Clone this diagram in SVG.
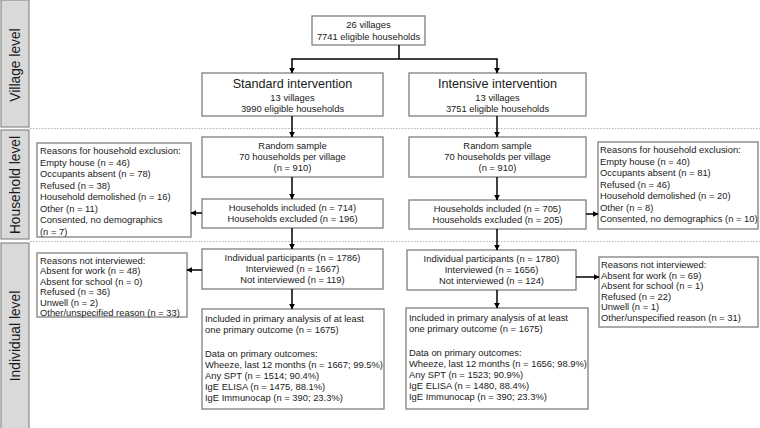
<svg xmlns="http://www.w3.org/2000/svg" width="760" height="428" viewBox="0 0 760 428">
<defs>
<marker id="ah" viewBox="0 0 10 10" refX="9" refY="5" markerWidth="6" markerHeight="6" markerUnits="userSpaceOnUse" orient="auto">
<path d="M0,0 L10,5 L0,10 z" fill="#000"/>
</marker>
<style>
.bar{fill:#d9d9d9;stroke:#8a8a8a;stroke-width:1.2}
.lvl{font-family:"Liberation Sans",Arial,sans-serif;font-size:13.8px;fill:#1a1a1a;text-anchor:middle}
.box{fill:#fff;stroke:#7f7f7f;stroke-width:1.3}
.t{font-family:"Liberation Sans",Arial,sans-serif;font-size:9.4px;fill:#1a1a1a}
.c{text-anchor:middle}
.title{font-size:12.6px}
.sep{stroke:#a0a0a0;stroke-width:0.8;stroke-dasharray:1.5,1.5;fill:none}
.con{stroke:#000;stroke-width:1.5;fill:none}
.arr{stroke:#000;stroke-width:1.5;fill:none;marker-end:url(#ah)}
</style>
</defs>
<rect width="760" height="428" fill="#fff"/>
<g id="levels">
<rect class="bar" x="1" y="0" width="28" height="127"/>
<rect class="bar" x="1" y="130" width="28" height="109"/>
<rect class="bar" x="1" y="243" width="28" height="186"/>
<text class="lvl" transform="translate(20,65) rotate(-90)">Village level</text>
<text class="lvl" transform="translate(20,185) rotate(-90)">Household level</text>
<text class="lvl" transform="translate(20,336) rotate(-90)">Individual level</text>
<line class="sep" x1="30" y1="128.5" x2="760" y2="128.5"/>
<line class="sep" x1="30" y1="241.5" x2="760" y2="241.5"/>
</g>
<g id="top">
<rect class="box" x="312" y="16" width="113" height="29"/>
<text class="t c" x="368.5" y="28">26 villages</text>
<text class="t c" x="368.5" y="40">7741 eligible households</text>
</g>
<g id="standard">
<rect class="box" x="202" y="73" width="181" height="43"/>
<text class="t c title" x="292.5" y="88">Standard intervention</text>
<text class="t c" x="292.5" y="101">13 villages</text>
<text class="t c" x="292.5" y="112">3990 eligible households</text>
</g>
<g id="intensive">
<rect class="box" x="409" y="73" width="177" height="43"/>
<text class="t c title" x="497.5" y="88">Intensive intervention</text>
<text class="t c" x="497.5" y="101">13 villages</text>
<text class="t c" x="497.5" y="112">3751 eligible households</text>
</g>
<g id="sample-std">
<rect class="box" x="202" y="137" width="181" height="40"/>
<text class="t c" x="292.5" y="149">Random sample</text>
<text class="t c" x="292.5" y="160">70 households per village</text>
<text class="t c" x="292.5" y="171">(n = 910)</text>
</g>
<g id="sample-int">
<rect class="box" x="409" y="137" width="177" height="40"/>
<text class="t c" x="497.5" y="149">Random sample</text>
<text class="t c" x="497.5" y="160">70 households per village</text>
<text class="t c" x="497.5" y="171">(n = 910)</text>
</g>
<g id="hh-std">
<rect class="box" x="202" y="199" width="181" height="29"/>
<text class="t c" x="292.5" y="211">Households included (n = 714)</text>
<text class="t c" x="292.5" y="222">Households excluded (n = 196)</text>
</g>
<g id="hh-int">
<rect class="box" x="409" y="200" width="177" height="29"/>
<text class="t c" x="497.5" y="212">Households included (n = 705)</text>
<text class="t c" x="497.5" y="223">Households excluded (n = 205)</text>
</g>
<g id="excl-std">
<rect class="box" x="37" y="143" width="154" height="94"/>
<text class="t" x="40" y="154">Reasons for household exclusion:</text>
<text class="t" x="40" y="165.5">Empty house (n = 46)</text>
<text class="t" x="40" y="177">Occupants absent (n = 78)</text>
<text class="t" x="40" y="188.5">Refused (n = 38)</text>
<text class="t" x="40" y="200">Household demolished (n = 16)</text>
<text class="t" x="40" y="211.5">Other (n = 11)</text>
<text class="t" x="40" y="223">Consented, no demographics</text>
<text class="t" x="40" y="234.5">(n = 7)</text>
</g>
<g id="excl-int">
<rect class="box" x="598" y="142" width="160" height="87"/>
<text class="t" x="600" y="153">Reasons for household exclusion:</text>
<text class="t" x="600" y="164.5">Empty house (n = 40)</text>
<text class="t" x="600" y="176">Occupants absent (n = 81)</text>
<text class="t" x="600" y="187.5">Refused (n = 46)</text>
<text class="t" x="600" y="199">Household demolished (n = 20)</text>
<text class="t" x="600" y="210.5">Other (n = 8)</text>
<text class="t" x="600" y="222">Consented, no demographics (n = 10)</text>
</g>
<g id="ind-std">
<rect class="box" x="202" y="249" width="181" height="40"/>
<text class="t c" x="292.5" y="261">Individual participants (n = 1786)</text>
<text class="t c" x="292.5" y="272">Interviewed (n = 1667)</text>
<text class="t c" x="292.5" y="283">Not interviewed (n = 119)</text>
</g>
<g id="ind-int">
<rect class="box" x="407" y="250" width="169" height="40"/>
<text class="t c" x="491.5" y="262">Individual participants (n = 1780)</text>
<text class="t c" x="491.5" y="273">Interviewed (n = 1656)</text>
<text class="t c" x="491.5" y="284">Not interviewed (n = 124)</text>
</g>
<g id="notint-std">
<rect class="box" x="37" y="253" width="150" height="64"/>
<text class="t" x="40" y="263.5">Reasons not interviewed:</text>
<text class="t" x="40" y="274">Absent for work (n = 48)</text>
<text class="t" x="40" y="284.5">Absent for school (n = 0)</text>
<text class="t" x="40" y="295">Refused (n = 36)</text>
<text class="t" x="40" y="305.5">Unwell (n = 2)</text>
<text class="t" x="40" y="316">Other/unspecified reason (n = 33)</text>
</g>
<g id="notint-int">
<rect class="box" x="599" y="257" width="159" height="70"/>
<text class="t" x="601" y="268">Reasons not interviewed:</text>
<text class="t" x="601" y="278.5">Absent for work (n = 69)</text>
<text class="t" x="601" y="289">Absent for school (n = 1)</text>
<text class="t" x="601" y="299.5">Refused (n = 22)</text>
<text class="t" x="601" y="310">Unwell (n = 1)</text>
<text class="t" x="601" y="320.5">Other/unspecified reason (n = 31)</text>
</g>
<g id="incl-std">
<rect class="box" x="202" y="309" width="182" height="100"/>
<text class="t" x="205" y="322">Included in primary analysis of at least</text>
<text class="t" x="205" y="333">one primary outcome (n = 1675)</text>
<text class="t" x="205" y="357">Data on primary outcomes:</text>
<text class="t" x="205" y="368">Wheeze, last 12 months (n = 1667; 99.5%)</text>
<text class="t" x="205" y="379">Any SPT (n = 1514; 90.4%)</text>
<text class="t" x="205" y="390">IgE ELISA (n = 1475, 88.1%)</text>
<text class="t" x="205" y="401">IgE Immunocap (n = 390; 23.3%)</text>
</g>
<g id="incl-int">
<rect class="box" x="406" y="308" width="182" height="101"/>
<text class="t" x="409" y="321">Included in primary analysis of at least</text>
<text class="t" x="409" y="332">one primary outcome (n = 1675)</text>
<text class="t" x="409" y="356">Data on primary outcomes:</text>
<text class="t" x="409" y="367">Wheeze, last 12 months (n = 1656; 98.9%)</text>
<text class="t" x="409" y="378">Any SPT (n = 1523; 90.9%)</text>
<text class="t" x="409" y="389">IgE ELISA (n = 1480, 88.4%)</text>
<text class="t" x="409" y="400">IgE Immunocap (n = 390; 23.3%)</text>
</g>
<g id="connectors">
<path class="con" d="M399,45 V59 M291.25,59 H497.75"/>
<path class="arr" d="M292,59 V73"/>
<path class="arr" d="M497,59 V73"/>
<path class="arr" d="M292,116 V137"/>
<path class="arr" d="M497,116 V137"/>
<path class="arr" d="M292,177 V199"/>
<path class="arr" d="M497,177 V200"/>
<path class="arr" d="M202,213 H191"/>
<path class="arr" d="M586,214 H598"/>
<path class="arr" d="M292,228 V249"/>
<path class="arr" d="M497,229 V250"/>
<path class="arr" d="M202,270 H187"/>
<path class="arr" d="M576,277 H599"/>
<path class="arr" d="M292,289 V309"/>
<path class="arr" d="M497,290 V308"/>
</g>
</svg>
